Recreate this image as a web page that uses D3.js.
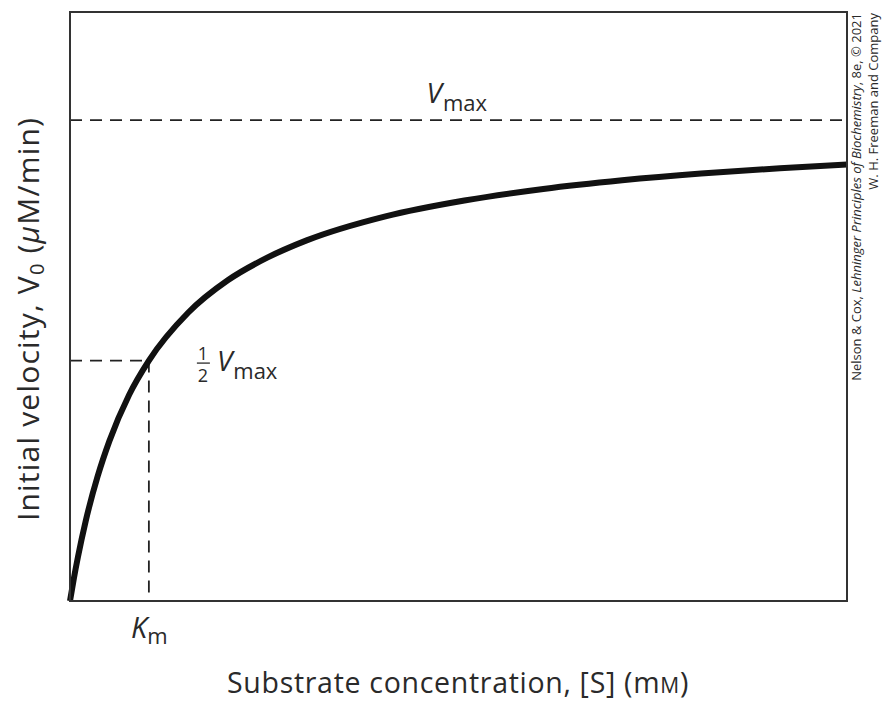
<!DOCTYPE html>
<html><head><meta charset="utf-8">
<script src="https://cdn.jsdelivr.net/npm/d3@7"></script>
<style>body{margin:0;background:#fff} svg{display:block}</style>
</head><body><svg id="c" width="893" height="702"></svg>
<script>
// Values (arbitrary units, Vmax = 10, Km = 1)
const substrate = [0, 0.05, 0.1, 0.2, 0.35, 0.5, 0.75, 1, 1.5, 2, 2.5, 3, 4, 5, 6, 7, 8, 9, 9.85];
const velocity  = [0, 0.48, 0.91, 1.67, 2.59, 3.33, 4.29, 5.0, 6.0, 6.67, 7.14, 7.5, 8.0, 8.33, 8.57, 8.75, 8.89, 9.0, 9.08];
const vmaxValue = [10];
const kmValue = [1];
const xDomain = [0, 9.85];
const yDomain = [0, 12.25];

(function () {
const svg = d3.select("#c");
const pL = 70, pR = 847, pT = 12, pB = 601;
const x = d3.scaleLinear().domain(xDomain).range([pL, pR]);
const y = d3.scaleLinear().domain(yDomain).range([pB, pT]);
const font = "'Open Sans', 'Noto Sans', sans-serif";
const txt = "#2a2a2a";

const vmax = vmaxValue[0], km = kmValue[0];
const dash = "12,8";

// dashed guides
svg.append("line").attr("x1", x(0)).attr("x2", x(xDomain[1])).attr("y1", y(vmax)).attr("y2", y(vmax))
  .attr("stroke", "#222").attr("stroke-width", 1.8).attr("stroke-dasharray", dash);
svg.append("line").attr("x1", x(0)).attr("x2", x(km)).attr("y1", y(vmax/2)).attr("y2", y(vmax/2))
  .attr("stroke", "#222").attr("stroke-width", 1.8).attr("stroke-dasharray", dash);
svg.append("line").attr("x1", x(km)).attr("x2", x(km)).attr("y1", y(vmax/2)).attr("y2", y(0))
  .attr("stroke", "#222").attr("stroke-width", 1.8).attr("stroke-dasharray", dash);

// curve
const pts = substrate.map((s, i) => [s, velocity[i]]);
svg.append("path").datum(pts)
  .attr("d", d3.line().x(d => x(d[0])).y(d => y(d[1])).curve(d3.curveMonotoneX))
  .attr("fill", "none").attr("stroke", "#111").attr("stroke-width", 6);

// frame
svg.append("rect").attr("x", pL).attr("y", pT).attr("width", pR - pL).attr("height", pB - pT)
  .attr("fill", "none").attr("stroke", "#333").attr("stroke-width", 2);

// Vmax label
const vl = svg.append("text").attr("x", x(4.52)).attr("y", y(vmax) - 17)
  .attr("font-family", font).attr("fill", txt);
vl.append("tspan").attr("font-style", "italic").attr("font-size", 28).text("V");
vl.append("tspan").attr("font-size", 22).attr("dx", 1).attr("dy", 8).text("max");

// 1/2 Vmax label
const hx = x(km) + 48, hy = y(vmax/2);
svg.append("text").attr("x", hx + 6).attr("y", hy - 1).attr("text-anchor", "middle")
  .attr("font-family", font).attr("font-size", 18).attr("fill", txt).text("1");
svg.append("line").attr("x1", hx).attr("x2", hx + 13).attr("y1", hy + 2.5).attr("y2", hy + 2.5)
  .attr("stroke", txt).attr("stroke-width", 1.3);
svg.append("text").attr("x", hx + 6).attr("y", hy + 21).attr("text-anchor", "middle")
  .attr("font-family", font).attr("font-size", 18).attr("fill", txt).text("2");
const hl = svg.append("text").attr("x", hx + 20).attr("y", hy + 10)
  .attr("font-family", font).attr("fill", txt);
hl.append("tspan").attr("font-style", "italic").attr("font-size", 28).text("V");
hl.append("tspan").attr("font-size", 22).attr("dx", 1).attr("dy", 8).text("max");

// Km label
const kl = svg.append("text").attr("x", x(km) - 18).attr("y", pB + 37)
  .attr("font-family", font).attr("fill", txt);
kl.append("tspan").attr("font-style", "italic").attr("font-size", 29).text("K");
kl.append("tspan").attr("font-size", 22).attr("dx", 0).attr("dy", 6).text("m");

// axis titles
const xt = svg.append("text").attr("x", 458).attr("y", 693).attr("text-anchor", "middle")
  .attr("font-family", font).attr("font-size", 28.5).attr("letter-spacing", 0.7).attr("fill", txt);
xt.append("tspan").text("Substrate concentration, [S] (m");
xt.append("tspan").attr("font-size", 21).text("M");
xt.append("tspan").text(")");

const yt = svg.append("text").attr("transform", "translate(39,319) rotate(-90)").attr("text-anchor", "middle")
  .attr("font-family", font).attr("font-size", 30).attr("letter-spacing", 1.2).attr("fill", txt);
yt.append("tspan").text("Initial velocity, V");
yt.append("tspan").attr("font-size", 20).attr("dy", 5).text("0");
yt.append("tspan").attr("dy", -5).text(" (");
yt.append("tspan").attr("font-style", "italic").text("μ");
yt.append("tspan").text("M/min)");

// credit
const c1 = svg.append("text").attr("transform", "translate(861,13) rotate(-90)").attr("text-anchor", "end")
  .attr("font-family", font).attr("font-size", 13).attr("fill", txt);
c1.append("tspan").text("Nelson & Cox, ");
c1.append("tspan").attr("font-style", "italic").text("Lehninger Principles of Biochemistry");
c1.append("tspan").text(", 8e, © 2021");
svg.append("text").attr("transform", "translate(878,13) rotate(-90)").attr("text-anchor", "end")
  .attr("font-family", font).attr("font-size", 13).attr("fill", txt).text("W. H. Freeman and Company");
})();
</script></body></html>
